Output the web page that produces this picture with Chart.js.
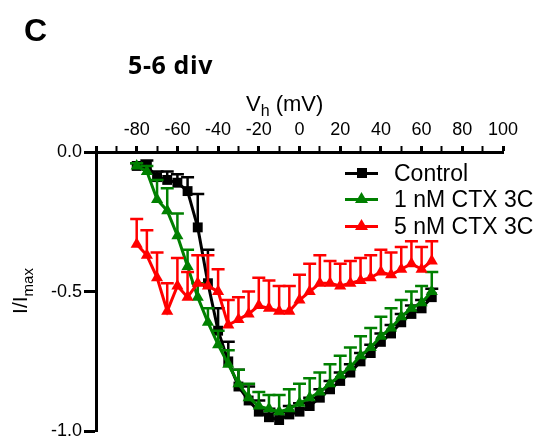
<!DOCTYPE html>
<html>
<head>
<meta charset="utf-8">
<script src="https://cdn.jsdelivr.net/npm/chart.js@4/dist/chart.umd.min.js"></script>
<style>
  html, body { margin: 0; padding: 0; background: #fff; }
  #wrap { position: relative; width: 544px; height: 444px; font-family: "Liberation Sans", Arial, sans-serif; }
  #chartCanvas { position: absolute; left: 0; top: 0; }
  .txt { position: absolute; line-height: 1; white-space: nowrap; color: #000; }
  .leg-line { position: absolute; height: 3px; width: 33px; }
  .leg-mark { position: absolute; }
</style>
</head>
<body>
<div id="wrap">
  <canvas id="chartCanvas" width="544" height="444"></canvas>
  <div class="txt" style="left:24px; top:14px; font-size:32px; font-weight:bold;">C</div>
  <div class="txt" style="left:128px; top:52px; font-size:25px; font-weight:bold; letter-spacing:0.6px; font-family:'Open Sans',sans-serif;">5-6 div</div>
  <div class="txt" style="left:246px; top:93px; font-size:22px;">V<sub style="font-size:16px;">h</sub> (mV)</div>
  <div class="txt" style="left:22px; top:291px; font-size:21px; transform:translate(-50%,-50%) rotate(-90deg);">I/I<sub style="font-size:15px;">max</sub></div>
  <div id="legend"></div>
</div>
<script>
// membrane potential steps (mV)
const voltages = [-80, -75, -70, -65, -60, -55, -50, -45, -40, -35, -30, -25, -20, -15, -10,
                  -5, 0, 5, 10, 15, 20, 25, 30, 35, 40, 45, 50, 55, 60, 65];

const controlMean = [-0.05, -0.05, -0.09, -0.10, -0.11, -0.14, -0.27, -0.47, -0.64, -0.75,
                     -0.84, -0.89, -0.93, -0.95, -0.96, -0.94, -0.93, -0.91, -0.88, -0.85,
                     -0.82, -0.79, -0.75, -0.72, -0.68, -0.65, -0.61, -0.58, -0.56, -0.52];
const controlSem = [0.01, 0.02, 0.02, 0.03, 0.03, 0.05, 0.12, 0.12, 0.08, 0.07,
                    0.06, 0.05, 0.04, 0.03, 0.03, 0.03, 0.03, 0.03, 0.03, 0.03,
                    0.03, 0.03, 0.03, 0.03, 0.03, 0.03, 0.03, 0.03, 0.03, 0.03];

const ctx1Mean = [-0.05, -0.07, -0.17, -0.21, -0.30, -0.41, -0.52, -0.61, -0.69, -0.76,
                  -0.83, -0.88, -0.91, -0.92, -0.93, -0.92, -0.90, -0.88, -0.86, -0.83,
                  -0.80, -0.77, -0.73, -0.70, -0.66, -0.63, -0.59, -0.56, -0.54, -0.50];
const ctx1Sem = [0.01, 0.02, 0.07, 0.08, 0.08, 0.06, 0.05, 0.05, 0.05, 0.05,
                 0.05, 0.05, 0.05, 0.05, 0.06, 0.07, 0.07, 0.07, 0.07, 0.07,
                 0.07, 0.07, 0.07, 0.07, 0.07, 0.07, 0.06, 0.06, 0.06, 0.07];

const ctx5Mean = [-0.33, -0.37, -0.45, -0.57, -0.48, -0.52, -0.47, -0.48, -0.50, -0.62,
                  -0.60, -0.58, -0.55, -0.56, -0.57, -0.57, -0.53, -0.50, -0.47, -0.47,
                  -0.48, -0.47, -0.46, -0.45, -0.43, -0.44, -0.42, -0.40, -0.42, -0.39];
const ctx5Sem = [0.09, 0.09, 0.09, 0.10, 0.10, 0.09, 0.10, 0.11, 0.08, 0.09,
                 0.08, 0.08, 0.10, 0.10, 0.09, 0.09, 0.09, 0.10, 0.10, 0.08,
                 0.08, 0.08, 0.08, 0.08, 0.08, 0.08, 0.08, 0.08, 0.08, 0.07];

const seriesNames = ['Control', '1 nM CTX 3C', '5 nM CTX 3C'];
const seriesColors = ['#000000', '#008000', '#ff0000'];

const toPoints = (means) => voltages.map((v, i) => ({ x: v, y: means[i] }));
const sems = [controlSem, ctx1Sem, ctx5Sem];

// draws the +SEM error bars of a dataset with the chart's own scales
const errorBars = {
    id: 'errorBars',
    beforeDatasetDraw(chart, args) {
        const i = args.index;
        const meta = args.meta;
        const yScale = chart.scales.y;
        const c = chart.ctx;
        c.save();
        c.strokeStyle = seriesColors[i];
        c.lineWidth = 2.5;
        meta.data.forEach((pt, j) => {
            const top = yScale.getPixelForValue(meta._dataset.data[j].y + sems[i][j]);
            c.beginPath();
            c.moveTo(pt.x, pt.y);
            c.lineTo(pt.x, top);
            c.moveTo(pt.x - 6.5, top);
            c.lineTo(pt.x + 6.5, top);
            c.stroke();
        });
        c.restore();
    }
};

const makeSet = (k, means, shape) => ({
    label: seriesNames[k],
    data: toPoints(means),
    borderColor: seriesColors[k],
    backgroundColor: seriesColors[k],
    borderWidth: 3,
    pointStyle: shape,
    pointRadius: 7,
    pointBorderWidth: 0,
    tension: 0,
    clip: false,
    order: 3 - k
});

new Chart(document.getElementById('chartCanvas').getContext('2d'), {
    type: 'line',
    data: {
        datasets: [
            makeSet(0, controlMean, 'rect'),
            makeSet(1, ctx1Mean, 'triangle'),
            makeSet(2, ctx5Mean, 'triangle')
        ]
    },
    options: {
        responsive: false,
        animation: false,
        layout: { padding: { left: 0, top: 0, right: 41, bottom: 11 } },
        plugins: { legend: { display: false }, tooltip: { enabled: false } },
        scales: {
            x: {
                type: 'linear',
                position: 'top',
                min: -100,
                max: 100,
                ticks: {
                    stepSize: 10,
                    autoSkip: false,
                    maxRotation: 0,
                    padding: 5,
                    color: '#000',
                    font: { family: '"Liberation Sans", Arial', size: 18 },
                    callback: v => (v % 20 === 0 && v !== -100) ? String(v) : ''
                },
                grid: {
                    drawOnChartArea: false,
                    tickLength: 6,
                    tickColor: '#000',
                    tickWidth: c => (c.tick && c.tick.value % 20 === 0) ? 3 : 2
                },
                border: { color: '#000', width: 3 },
                afterFit: s => { s.height = 152; }
            },
            y: {
                min: -1,
                max: 0,
                ticks: {
                    stepSize: 0.5,
                    padding: 2,
                    color: '#000',
                    font: { family: '"Liberation Sans", Arial', size: 18 },
                    callback: v => v.toFixed(1)
                },
                grid: {
                    drawOnChartArea: false,
                    tickLength: 12,
                    tickColor: '#000',
                    tickWidth: 3
                },
                border: { color: '#000', width: 3 },
                afterFit: s => { s.width = 96; }
            }
        }
    },
    plugins: [errorBars]
});

// legend inside the plot, top right
const legend = document.getElementById('legend');
const legendRows = [173, 199, 226];
seriesNames.forEach((name, k) => {
    const y = legendRows[k];
    const line = document.createElement('div');
    line.className = 'leg-line';
    line.style.cssText = `left:345px; top:${y - 1.5}px; background:${seriesColors[k]};`;
    legend.appendChild(line);
    const mark = document.createElement('div');
    mark.className = 'leg-mark';
    if (k === 0) {
        mark.style.cssText = `left:357px; top:${y - 5}px; width:10px; height:10px; background:${seriesColors[k]};`;
    } else {
        mark.style.cssText = `left:355px; top:${y - 7}px; width:13px; height:11px; background:${seriesColors[k]}; clip-path:polygon(50% 0, 100% 100%, 0 100%);`;
    }
    legend.appendChild(mark);
    const t = document.createElement('div');
    t.className = 'txt';
    t.style.cssText = `left:394px; top:${y - 11.5}px; font-size:23px;`;
    t.textContent = name;
    legend.appendChild(t);
});
</script>
</body>
</html>
